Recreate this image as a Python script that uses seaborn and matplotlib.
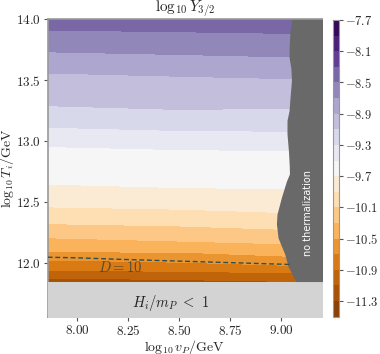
import numpy as np
import matplotlib
matplotlib.use("Agg")
from matplotlib import pyplot as plt
import seaborn as sns

# contour levels of log10 Y_3/2 and the T_i (log10 GeV) where each is reached,
# read off at three v_P columns
x_cols = [7.85, 8.5, 9.02, 9.25]
level_vals = [-12.0, -11.5, -11.3, -11.1, -10.9, -10.7, -10.5, -10.3, -10.1, -9.9,
              -9.7, -9.5, -9.3, -9.1, -8.9, -8.7, -8.5, -8.3, -8.1]
T_left = [11.50, 11.77, 11.825, 11.874, 11.936, 12.021, 12.089, 12.205, 12.321, 12.459,
          12.646, 12.955, 13.114, 13.291, 13.560, 13.734, 13.913, 14.08, 14.25]
T_mid = [11.50, 11.76, 11.815, 11.861, 11.930, 12.004, 12.087, 12.178, 12.302, 12.440,
         12.618, 12.930, 13.087, 13.260, 13.533, 13.712, 13.899, 14.07, 14.24]
T_right = [11.50, 11.75, 11.80, 11.847, 11.916, 11.979, 12.054, 12.155, 12.274, 12.412,
           12.607, 12.921, 13.081, 13.269, 13.514, 13.693, 13.886, 14.06, 14.23]

# no-thermalization boundary
edge_T = [11.845, 11.97, 12.07, 12.205, 12.32, 12.40, 12.54, 12.67, 12.73, 12.80, 12.92,
          13.06, 13.17, 13.25, 13.36, 13.5, 13.6, 13.69, 13.78, 13.89, 14.0]
edge_x = [9.072, 9.034, 9.018, 8.985, 8.977, 8.98, 9.002, 9.026, 9.041, 9.040, 9.036,
          9.029, 9.029, 9.039, 9.044, 9.051, 9.048, 9.039, 9.040, 9.043, 9.052]
hubble_T = 11.845

# D = 10 line
d10_x = [7.855, 8.0, 8.2, 8.4, 8.6, 8.8, 9.05]
d10_T = [12.045, 12.04, 12.028, 12.018, 12.008, 11.998, 11.985]

levels = np.round(np.arange(-11.5, -7.6, 0.2), 1)
cbar_ticks = levels[1::2]

sns.set_style("ticks")
plt.rcParams["font.family"] = "serif"
plt.rcParams["font.serif"] = ["cmr10"]
plt.rcParams["mathtext.fontset"] = "cm"
plt.rcParams["axes.formatter.use_mathtext"] = True
plt.rcParams["axes.unicode_minus"] = False

fig = plt.figure(figsize=(3.8, 3.54), dpi=100)
ax = fig.add_axes([0.1255, 0.1054, 0.7215, 0.8396])
cax = fig.add_axes([0.8755, 0.1054, 0.017, 0.838])

T_cols = np.array([T_left, T_mid, T_right, T_right]).T
X = np.tile(np.array(x_cols), (len(level_vals), 1))
Z = np.tile(np.array(level_vals)[:, None], (1, len(x_cols)))
cs = ax.contourf(X, T_cols, Z, levels=levels, cmap="PuOr", zorder=1)

ax.fill_between([7.8, 9.3], 11.4, hubble_T, color="#d3d3d3", zorder=3, lw=0)
ax.fill_betweenx(edge_T, edge_x, 9.3, color="#696969", zorder=3, lw=0)

sns.lineplot(x=d10_x, y=d10_T, ax=ax, color="#2f4f4f", lw=1.0,
             linestyle=(0, (3.5, 2)), zorder=4)
ax.text(8.21, 11.957, r"$D=10$", fontsize=10.5, color="#3a3a3a", alpha=0.8,
        ha="center", va="center", zorder=5)
ax.text(8.46, 11.667, r"$H_i/m_P\ <\ 1$", fontsize=10.5, color="#222222",
        ha="center", va="center", zorder=5)
ax.text(9.13, 12.41, "no thermalization", family="DejaVu Sans", fontsize=7,
        color="white", rotation=90, ha="center", va="center", zorder=5)

ax.set_xlim(7.855, 9.2)
ax.set_ylim(11.556, 14.0)
ax.set_xticks([8.0, 8.25, 8.5, 8.75, 9.0])
ax.set_yticks([12.0, 12.5, 13.0, 13.5, 14.0])
ax.set_xticklabels([r"$8.00$", r"$8.25$", r"$8.50$", r"$8.75$", r"$9.00$"])
ax.set_yticklabels([r"$12.0$", r"$12.5$", r"$13.0$", r"$13.5$", r"$14.0$"])
ax.tick_params(labelsize=9.5, length=3, pad=2, color="#555555")
for s in ax.spines.values():
    s.set_color("#999999")
    s.set_linewidth(1.2)
ax.set_xlabel(r"$\log_{10} v_P/\mathrm{GeV}$", fontsize=10, labelpad=0)
ax.set_ylabel(r"$\log_{10} T_i/\mathrm{GeV}$", fontsize=10, labelpad=0)
ax.set_title(r"$\log_{10} Y_{3/2}$", fontsize=11, pad=3)

cb = fig.colorbar(cs, cax=cax, ticks=cbar_ticks)
cb.set_ticklabels([rf"${t:.1f}$" for t in cbar_ticks])
cb.ax.tick_params(labelsize=9, length=3, pad=1.5, color="#555555")
cb.outline.set_edgecolor("#999999")
cb.outline.set_linewidth(0.8)

fig.savefig("out.png", dpi=100)
